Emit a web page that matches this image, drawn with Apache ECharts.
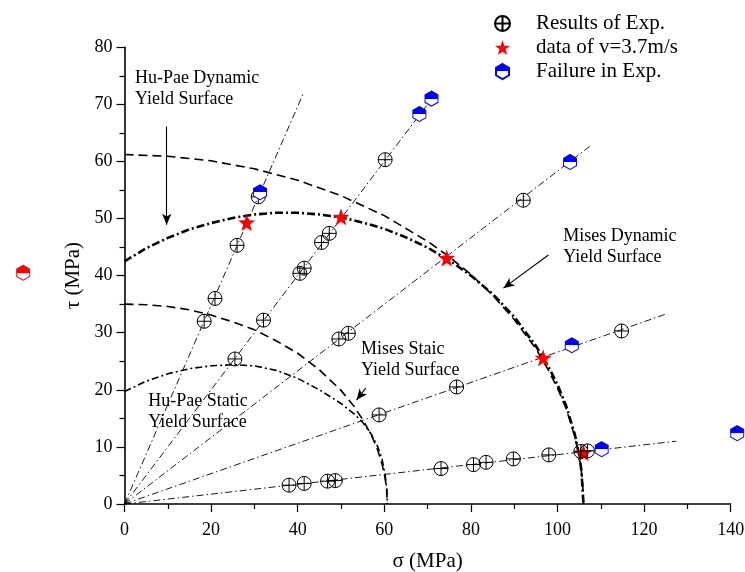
<!DOCTYPE html>
<html>
<head>
<meta charset="utf-8">
<script src="https://cdn.jsdelivr.net/npm/echarts@6/dist/echarts.min.js"></script>
<style>
  html, body { margin: 0; padding: 0; background: #fff; }
  #chart { width: 745px; height: 572px; }
</style>
</head>
<body>
<div id="chart"></div>
<script>
// Experimental results [sigma, tau] in MPa
const expResults = [
  [18.4, 32.0], [20.9, 36.0], [26.0, 45.3], [30.9, 53.8],
  [25.5, 25.4], [32.1, 32.2], [40.5, 40.4], [41.5, 41.3], [45.5, 45.8], [47.3, 47.4], [60.2, 60.3],
  [49.5, 28.9], [51.7, 29.9], [92.1, 53.2],
  [58.8, 15.6], [76.7, 20.5], [114.8, 30.3],
  [38.0, 3.3], [41.5, 3.6], [46.9, 4.0], [48.7, 4.1], [73.1, 6.2], [80.6, 6.9],
  [83.5, 7.3], [89.8, 7.9], [98.0, 8.6], [105.4, 9.2], [106.9, 9.3]
];
// Yield points at impact velocity 3.7 m/s
const dynamicData = [[28.2, 49.3], [50.0, 50.3], [74.4, 43.1], [96.7, 25.6], [106.0, 9.0]];
// Specimens that failed
const failures = [[31.3, 54.6], [68.1, 68.3], [70.9, 71.0], [102.9, 59.9], [103.3, 27.8], [110.2, 9.6], [141.5, 12.4]];
const strayMarker = [[-23.4, 40.5]];

// Loading paths from the origin: end points
const loadPathEnds = [[41.3, 71.9], [70.5, 70.5], [107.9, 62.9], [124.8, 33.2], [127.4, 11.0]];

// Yield surfaces [sigma, tau]
const misesStatic = [[0,35.0],[5,34.9],[10,34.6],[15,34.0],[20,33.1],[25,31.9],[30,30.5],[35,28.6],[40,26.4],[45,23.5],[50,19.9],[53,17.1],[55,14.8],[57,12.1],[58.5,9.4],[59.5,6.9],[60.2,4.5],[60.5,2.8],[60.7,0]];
const misesDynamic = [[0,61.2],[10,60.9],[20,60.1],[30,58.7],[40,56.7],[50,54.0],[60,50.5],[70,46.0],[75,43.3],[80,40.2],[85,36.6],[90,32.3],[95,27.2],[98,23.3],[100,20.3],[102,16.7],[104,11.8],[105,8.4],[105.5,5.9],[105.8,3.8],[106,0]];
const huPaeDynamic = [[0,42.5],[5,44.8],[10,46.6],[15,48.1],[20,49.2],[25,50.1],[30,50.7],[35,51.0],[40,51.0],[45,50.7],[50,50.2],[55,49.3],[60,48.2],[65,46.7],[70,44.9],[75,42.7],[80,40.0],[85,36.8],[90,32.8],[95,27.7],[98,23.9],[100,20.9],[102,17.2],[104,12.2],[105,8.6],[105.5,6.0],[106,0]];
const huPaeStatic = [[0,19.7],[5,21.5],[10,22.8],[15,23.7],[20,24.2],[25,24.4],[30,24.2],[35,23.4],[40,22.0],[45,20.0],[50,17.6],[53,15.8],[55,14.3],[57,12.2],[58.5,10.0],[59.5,7.8],[60.2,5.0],[60.6,2.5],[60.7,0]];

// Callout texts and arrows (data coordinates)
const notes = [
  { text: 'Hu-Pae Dynamic\nYield Surface', at: [2.4, 72.7] },
  { text: 'Mises Dynamic\nYield Surface', at: [101.3, 45.1] },
  { text: 'Mises Staic\nYield Surface', at: [54.6, 25.3] },
  { text: 'Hu-Pae Static\nYield Surface', at: [5.5, 16.2] }
];
const arrows = [
  [[9.75, 66.1], [9.75, 48.9]],
  [[97.9, 43.6], [87.5, 37.8]],
  [[55.7, 20.3], [53.6, 18.2]]
];

const FONT = 'Liberation Serif';
const circlePlus = 'path://M-10 0A10 10 0 1 1 10 0A10 10 0 1 1 -10 0ZM-10 0L10 0M0 -10L0 10';
const star = 'path://M0,-10L2.35,-3.24L9.51,-3.09L3.8,1.24L5.88,8.09L0,4.4L-5.88,8.09L-3.8,1.24L-9.51,-3.09L-2.35,-3.24Z';
const hexagon = 'path://M0,-10L8.66,-5L8.66,5L0,10L-8.66,5L-8.66,-5Z';

function halfFill(color) {
  return new echarts.graphic.LinearGradient(0, 0, 0, 1, [
    { offset: 0, color: color }, { offset: 0.5, color: color },
    { offset: 0.5, color: '#fff' }, { offset: 1, color: '#fff' }
  ]);
}

const chart = echarts.init(document.getElementById('chart'), null, { renderer: 'canvas' });

const axisCommon = {
  type: 'value',
  nameLocation: 'middle',
  nameTextStyle: { fontFamily: FONT, fontSize: 21, color: '#000' },
  axisLine: { onZero: false, lineStyle: { color: '#000', width: 1.6 } },
  axisTick: { length: 8, lineStyle: { color: '#000', width: 1.2 } },
  minorTick: { show: true, splitNumber: 2, length: 5, lineStyle: { color: '#000', width: 1.2 } },
  splitLine: { show: false },
  axisLabel: { fontFamily: FONT, fontSize: 18, color: '#000' }
};

const series = [];
loadPathEnds.forEach(function (end) {
  series.push({
    type: 'line', data: [[0, 0], end], showSymbol: false, silent: true, z: 2,
    lineStyle: { color: '#000', width: 0.9, type: [7, 3, 1.5, 3] }
  });
});
series.push(
  { type: 'line', data: misesStatic, showSymbol: false, z: 3,
    lineStyle: { color: '#000', width: 1.6, type: [9, 5] } },
  { type: 'line', data: misesDynamic, showSymbol: false, z: 3,
    lineStyle: { color: '#000', width: 1.6, type: [9, 5] } },
  { type: 'line', data: huPaeStatic, showSymbol: false, z: 3,
    lineStyle: { color: '#000', width: 1.6, type: [7, 3, 2, 3] } },
  { type: 'line', data: huPaeDynamic, showSymbol: false, z: 3,
    lineStyle: { color: '#000', width: 2.6, type: [8, 3, 2, 3] } },
  { name: 'data of v=3.7m/s', type: 'scatter', data: dynamicData, symbol: star, symbolSize: 17, z: 4,
    itemStyle: { color: '#ff0000', opacity: 1 } },
  { name: 'Results of Exp.', type: 'scatter', data: expResults, symbol: circlePlus, symbolSize: 14, z: 5,
    itemStyle: { color: 'rgba(0,0,0,0)', borderColor: '#000', borderWidth: 1, opacity: 1 } },
  { name: 'Failure in Exp.', type: 'scatter', data: failures, symbol: hexagon, symbolSize: [13, 15], clip: false, z: 6,
    itemStyle: { color: halfFill('#0000ff'), borderColor: '#0000ff', borderWidth: 1, opacity: 1 } },
  { type: 'scatter', data: strayMarker, symbol: hexagon, symbolSize: [13, 15], clip: false, z: 6,
    itemStyle: { color: halfFill('#ff0000'), borderColor: '#ff0000', borderWidth: 1, opacity: 1 } },
  { type: 'line', data: [], z: 7,
    markLine: {
      silent: true, symbol: ['none', 'arrow'], symbolSize: [7, 11], label: { show: false },
      lineStyle: { color: '#000', width: 1.1, type: 'solid' },
      data: arrows.map(function (a) { return [{ coord: a[0] }, { coord: a[1] }]; })
    } }
);

chart.setOption({
  animation: false,
  backgroundColor: '#fff',
  grid: { left: 124.5, right: 14.3, top: 47.2, bottom: 68, containLabel: false, outerBoundsMode: 'none' },
  xAxis: Object.assign({}, axisCommon, {
    min: 0, max: 140, interval: 20, name: 'σ (MPa)', nameGap: 47,
    axisLabel: Object.assign({}, axisCommon.axisLabel, { margin: 17 })
  }),
  yAxis: Object.assign({}, axisCommon, {
    min: 0, max: 80, interval: 10, name: 'τ (MPa)', nameGap: 36,
    axisLabel: Object.assign({}, axisCommon.axisLabel, { margin: 12 })
  }),
  legend: {
    orient: 'vertical', left: 489, top: 8, itemWidth: 15, itemHeight: 15, itemGap: 3,
    selectedMode: false,
    textStyle: { fontFamily: FONT, fontSize: 21, color: '#000', padding: [0, 0, 0, 21] },
    data: ['Results of Exp.', 'data of v=3.7m/s', 'Failure in Exp.']
  },
  series: series
});

// Callout texts placed from data coordinates
chart.setOption({
  graphic: notes.map(function (n) {
    const p = chart.convertToPixel({ gridIndex: 0 }, n.at);
    return {
      type: 'text', x: p[0], y: p[1], z: 10,
      style: { text: n.text, fontFamily: FONT, fontSize: 18, lineHeight: 21, fill: '#000',
               align: 'left', verticalAlign: 'middle' }
    };
  })
});
</script>
</body>
</html>
